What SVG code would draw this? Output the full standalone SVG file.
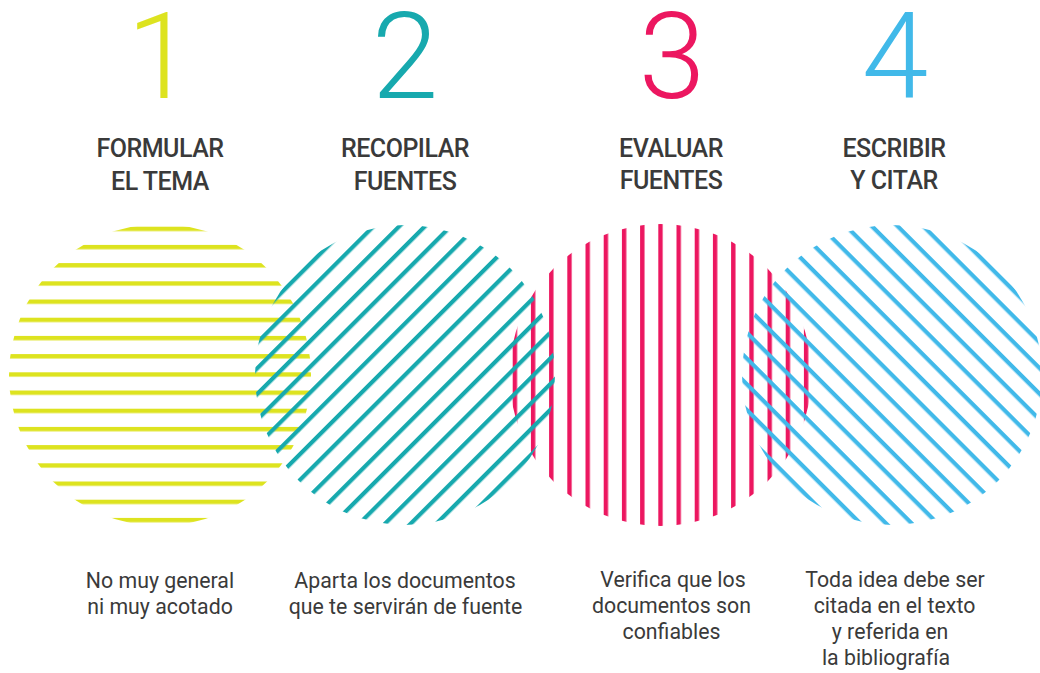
<svg xmlns="http://www.w3.org/2000/svg" width="1040" height="673" viewBox="0 0 1040 673">
<style>
.num{font-family:Roboto,"Open Sans",sans-serif;font-weight:300;font-size:120px;text-anchor:middle}
.head{font-family:Roboto,"Liberation Sans",sans-serif;font-weight:500;font-size:25px;letter-spacing:-0.5px;fill:#3a3a3a;text-anchor:middle}
.desc{font-family:Roboto,"Liberation Sans",sans-serif;font-weight:400;font-size:21.3px;fill:#3a3a3a;text-anchor:middle}
</style>
<defs>
<pattern id="pY" patternUnits="userSpaceOnUse" x="0" y="372.3" width="18.2" height="18.2"><rect width="18.2" height="4.4" fill="#dde31f"/></pattern>
<pattern id="pR" patternUnits="userSpaceOnUse" x="658.3" y="0" width="18.2" height="18.2"><rect width="4.4" height="18.2" fill="#ec1760"/></pattern>
<pattern id="pT" patternUnits="userSpaceOnUse" x="0" y="372.9" width="18.2" height="18.2" patternTransform="rotate(-45 405 375)"><rect width="18.2" height="4.2" fill="#17a9ae"/></pattern>
<pattern id="pB" patternUnits="userSpaceOnUse" x="0" y="372.9" width="18.2" height="18.2" patternTransform="rotate(45 892 375)"><rect width="18.2" height="4.2" fill="#41b9e9"/></pattern>
</defs>
<g id="step1">
<circle cx="160" cy="375" r="151" fill="url(#pY)"/>
<text class="num" x="160" y="97.5" fill="#dde31f">1</text>
<text class="head" x="160" y="157">FORMULAR</text>
<text class="head" x="160" y="189.5">EL TEMA</text>
<text class="desc" x="160" y="588">No muy general</text>
<text class="desc" x="160" y="613.5">ni muy acotado</text>
</g>
<g id="step3">
<circle cx="660.5" cy="375" r="151" fill="url(#pR)"/>
<text class="num" x="672" y="97.5" fill="#ec1760">3</text>
<text class="head" x="671" y="156.5">EVALUAR</text>
<text class="head" x="671" y="189">FUENTES</text>
<text class="desc" x="673" y="587">Verifica que  los</text>
<text class="desc" x="671.5" y="613">documentos son</text>
<text class="desc" x="671.5" y="639">confiables</text>
</g>
<g id="step2">
<circle cx="405" cy="375" r="150" fill="url(#pT)"/>
<text class="num" x="405" y="97.5" fill="#17a9ae">2</text>
<text class="head" x="405" y="157">RECOPILAR</text>
<text class="head" x="405" y="189.5">FUENTES</text>
<text class="desc" x="405" y="588">Aparta los documentos</text>
<text class="desc" x="405.5" y="613.5">que te servirán de fuente</text>
</g>
<g id="step4">
<circle cx="892" cy="375" r="150" fill="url(#pB)"/>
<text class="num" x="895" y="97.5" fill="#41b9e9">4</text>
<text class="head" x="894" y="156.5">ESCRIBIR</text>
<text class="head" x="894" y="189">Y CITAR</text>
<text class="desc" x="895" y="587">Toda idea debe ser</text>
<text class="desc" x="894.5" y="613">citada en el texto</text>
<text class="desc" x="890" y="639">y referida en</text>
<text class="desc" x="886" y="665">la bibliografía</text>
</g>
<g id="connectors"/>
</svg>
